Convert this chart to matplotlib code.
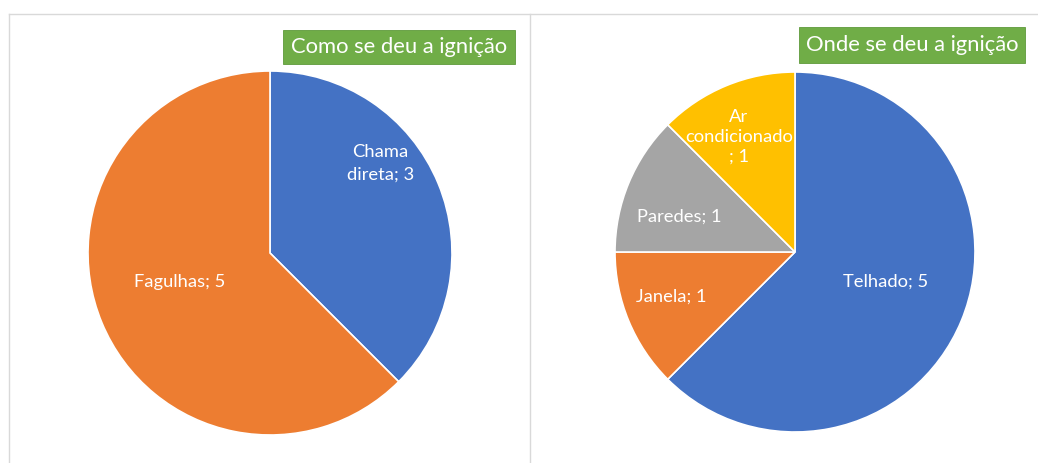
import numpy as np
import matplotlib
matplotlib.use('Agg')
import matplotlib.pyplot as plt
from matplotlib.lines import Line2D

plt.rcParams['font.family'] = ['Lato', 'DejaVu Sans']

# left chart: how ignition happened
como_labels = ['Chama\ndireta; 3', 'Fagulhas; 5']
como_values = [3, 5]
como_colors = ['#4472C4', '#ED7D31']

# right chart: where ignition happened
onde_labels = ['Telhado; 5', 'Janela; 1', 'Paredes; 1', 'Ar\ncondicionado\n; 1']
onde_values = [5, 1, 1, 1]
onde_colors = ['#4472C4', '#ED7D31', '#A5A5A5', '#FFC000']

# label placement (radius fraction, angle in degrees), like Excel's best fit
como_label_pos = [(0.78, 39), (0.52, 198)]
onde_label_pos = [(0.53, -18), (0.73, 200), (0.67, 163), (0.71, 116)]

W, H = 1038, 463
fig = plt.figure(figsize=(W / 100, H / 100), dpi=100)

def px_axes(cx, cy, r):
    # axes box in figure fraction from pixel centre/radius
    return fig.add_axes([(cx - r) / W, (H - cy - r) / H, 2 * r / W, 2 * r / H])

def draw_pie(ax, values, labels, colors, label_pos, spacing=1.3):
    wedges, _ = ax.pie(values, colors=colors, startangle=90, counterclock=False,
                       radius=1, wedgeprops=dict(edgecolor='white', linewidth=1.2))
    ax.set_xlim(-1, 1)
    ax.set_ylim(-1, 1)
    ax.set_aspect('equal')
    ax.axis('off')
    for lab, (r, ang) in zip(labels, label_pos):
        a = np.deg2rad(ang)
        ax.text(r * np.cos(a), r * np.sin(a), lab, ha='center', va='center',
                color='white', fontsize=13.2, linespacing=spacing)

ax1 = px_axes(270, 253, 182)
draw_pie(ax1, como_values, como_labels, como_colors, como_label_pos, spacing=1.5)

ax2 = px_axes(795, 252, 180)
draw_pie(ax2, onde_values, onde_labels, onde_colors, onde_label_pos)

# panel borders
def fx(x):
    return x / W

def fy(y):
    return 1 - y / H

border = '#D9D9D9'
fig.add_artist(Line2D([fx(9), 1], [fy(14), fy(14)], color=border, lw=1))
fig.add_artist(Line2D([fx(9), fx(9)], [fy(14), 0], color=border, lw=1))
fig.add_artist(Line2D([fx(530), fx(530)], [fy(14), 0], color=border, lw=1))

# green title boxes
def title_box(x0, y0, x1, y1, text):
    fig.patches.append(plt.Rectangle((fx(x0), fy(y1)), fx(x1 - x0), (y1 - y0) / H,
                                     transform=fig.transFigure, facecolor='#70AD47',
                                     edgecolor='#5E9A3A', lw=0.6))
    fig.text(fx((x0 + x1) / 2), fy((y0 + y1) / 2), text, ha='center', va='center',
             color='white', fontsize=15.8)

title_box(283, 30, 515, 64, 'Como se deu a ignição')
title_box(799, 27, 1025, 63, 'Onde se deu a ignição')

fig.savefig('out.png', dpi=100, facecolor='white')
